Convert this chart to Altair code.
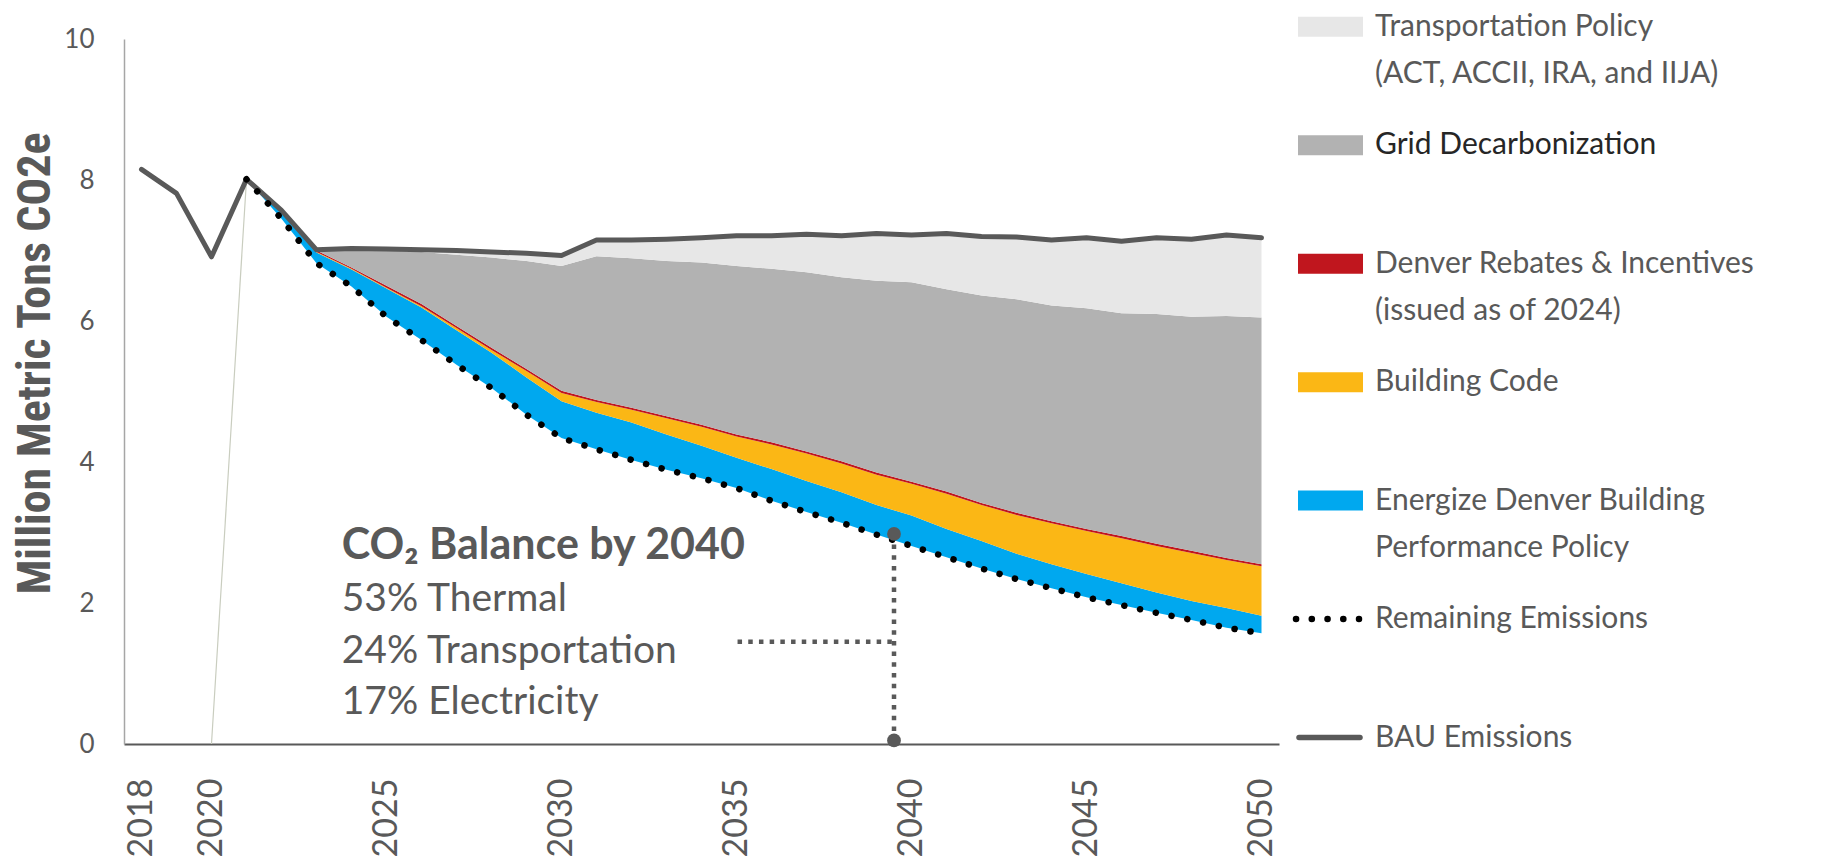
import altair as alt
import pandas as pd

# ---------------- data ----------------
all_years = list(range(2018, 2051))
years = list(range(2021, 2051))
tick_years = [2018, 2020, 2025, 2030, 2035, 2040, 2045, 2050]

bau = [8.15, 7.81, 6.91, 8.01, 7.57, 7.01, 7.03, 7.02, 7.01, 7.00, 6.98, 6.96, 6.93,
       7.15, 7.15, 7.16, 7.18, 7.21, 7.21, 7.23, 7.21, 7.24, 7.22, 7.24, 7.20, 7.19,
       7.15, 7.18, 7.13, 7.18, 7.16, 7.22, 7.18]

remaining = [8.01, 7.45, 6.82, 6.49, 6.06, 5.73, 5.38, 5.05, 4.67, 4.34, 4.18, 4.03,
             3.89, 3.77, 3.63, 3.45, 3.29, 3.14, 2.97, 2.81, 2.65, 2.49, 2.34, 2.21,
             2.08, 1.97, 1.86, 1.76, 1.65, 1.57]
energize = [0, 0.12, 0.15, 0.24, 0.40, 0.46, 0.49, 0.50, 0.53, 0.52, 0.52, 0.53, 0.50,
            0.46, 0.43, 0.45, 0.44, 0.43, 0.42, 0.43, 0.40, 0.39, 0.36, 0.34, 0.33,
            0.31, 0.29, 0.27, 0.28, 0.25]
building = [0, 0, 0.01, 0.01, 0.01, 0.02, 0.03, 0.04, 0.09, 0.12, 0.15, 0.18, 0.23,
            0.27, 0.30, 0.35, 0.39, 0.41, 0.43, 0.45, 0.50, 0.51, 0.55, 0.58, 0.61,
            0.64, 0.66, 0.68, 0.68, 0.70]
rebates = [0, 0, 0.02, 0.02] + [0.03] * 26
grid = [0, 0, 0.01, 0.26, 0.50, 0.74, 1.01, 1.28, 1.53, 1.77, 2.04, 2.12, 2.20, 2.30,
        2.39, 2.46, 2.54, 2.61, 2.72, 2.83, 2.87, 2.94, 3.03, 3.06, 3.13, 3.16, 3.26,
        3.32, 3.43, 3.50]
transport = [0, 0, 0, 0.01, 0.02, 0.03, 0.06, 0.08, 0.11, 0.15, 0.23, 0.26, 0.31, 0.35,
             0.43, 0.47, 0.54, 0.59, 0.67, 0.67, 0.79, 0.84, 0.88, 0.93, 1.00, 1.02,
             1.08, 1.10, 1.15, 1.13]

stub_years = [2020, 2021]
stub_values = [0, 8.01]

series_names = ["Remaining", "Energize", "Building", "Rebates", "Grid", "Transport"]
series_colors = ["rgba(0,0,0,0)", "#00a8ef", "#fbb715", "#c0161e", "#b2b2b2", "#e7e7e7"]

ann_lines = ["CO\u2082 Balance by 2040", "53% Thermal", "24% Transportation", "17% Electricity"]
ann_values = [2.62, 1.88, 1.15, 0.42]
ann_year = 2023.72

callout_year = 2039.5
callout_top = 2.98
callout_bottom = 0.05
callout_h_value = 1.45
callout_h_start = 2035.03

legend_line1 = ["Transportation Policy", "Grid Decarbonization", "Denver Rebates & Incentives",
                "Building Code", "Energize Denver Building", "Remaining Emissions", "BAU Emissions"]
legend_line2 = ["(ACT, ACCII, IRA, and IIJA)", "", "(issued as of 2024)", "",
                "Performance Policy", "", ""]
legend_swatch = ["#e7e7e7", "#b2b2b2", "#c0161e", "#fbb715", "#00a8ef", "black", "#595959"]
legend_text_color = ["#595959", "#262626", "#595959", "#595959", "#595959", "#595959", "#595959"]

# ---------------- frames ----------------
series_values = [remaining, energize, building, rebates, grid, transport]
rows = []
for order, (name, vals) in enumerate(zip(series_names, series_values)):
    for yr, v in zip(years, vals):
        rows.append({"year": yr, "value": v, "series": name, "order": order})
stack_df = pd.DataFrame(rows)
bau_df = pd.DataFrame({"year": all_years, "value": bau})
rem_df = pd.DataFrame({"year": years, "value": remaining})
stub_df = pd.DataFrame({"year": stub_years, "value": stub_values})
ann_df = pd.DataFrame({"year": [ann_year] * 4, "value": ann_values, "label": ann_lines})
vline_df = pd.DataFrame({"year": [callout_year], "value": [callout_top], "value2": [callout_bottom]})
hline_df = pd.DataFrame({"year": [callout_h_start], "year2": [callout_year], "value": [callout_h_value]})
marker_df = pd.DataFrame({"year": [callout_year, callout_year], "value": [callout_top, callout_bottom]})
legend_df = pd.DataFrame({"idx": list(range(7)), "line1": legend_line1, "line2": legend_line2,
                          "swatch": legend_swatch, "tcolor": legend_text_color})

# ---------------- encodings ----------------
GRAY = "#595959"
x_scale = alt.Scale(domain=[2017.5, 2050.5], nice=False, zero=False)
y_scale = alt.Scale(domain=[0, 10], nice=False)
x_axis = alt.Axis(values=tick_years, format="d", labelAngle=270, labelAlign="right",
                  labelBaseline="middle", labelPadding=34, ticks=False, grid=False,
                  domainColor=GRAY, domainWidth=2, labelFont="Lato", labelFontSize=34,
                  labelColor=GRAY, title=None, labelFlush=False, labelOverlap=False)
y_axis = alt.Axis(values=[0, 2, 4, 6, 8, 10], ticks=False, grid=False,
                  domainColor="#a6a6a6", domainWidth=1.5, labelFont="Lato",
                  labelFontSize=26, labelColor=GRAY, labelPadding=30,
                  title="Million Metric Tons CO2e",
                  titleFont="Liberation Sans Narrow, Roboto Condensed, Lato",
                  titleFontSize=46, titleFontWeight="bold", titleColor=GRAY,
                  titlePadding=4, titleY=324)
X = alt.X("year:Q", scale=x_scale, axis=x_axis)
Y = alt.Y("value:Q", scale=y_scale, axis=y_axis)

stub = alt.Chart(stub_df).mark_line(color="#c9cdbf", strokeWidth=1.2).encode(x=X, y=Y)
areas = alt.Chart(stack_df).mark_area(interpolate="linear").encode(
    x=X, y=alt.Y("value:Q", stack="zero", scale=y_scale, axis=y_axis),
    color=alt.Color("series:N", scale=alt.Scale(domain=series_names, range=series_colors),
                    legend=None),
    order=alt.Order("order:Q"))
bau_line = alt.Chart(bau_df).mark_line(color=GRAY, strokeWidth=5, strokeJoin="round",
                                       strokeCap="round").encode(x=X, y=Y)
rem_line = alt.Chart(rem_df).mark_line(color="black", strokeWidth=6.5, strokeCap="round",
                                       strokeDash=[0.1, 16]).encode(x=X, y=Y)
vline = alt.Chart(vline_df).mark_rule(color=GRAY, strokeWidth=4.5, strokeDash=[4.5, 6.2]).encode(
    x=X, y=Y, y2="value2:Q")
hline = alt.Chart(hline_df).mark_rule(color=GRAY, strokeWidth=4.5, strokeDash=[4.5, 6.2]).encode(
    x=X, x2="year2:Q", y=Y)
markers = alt.Chart(marker_df).mark_point(filled=True, color=GRAY, size=190, opacity=1).encode(
    x=X, y=Y)
ann_title = alt.Chart(ann_df.iloc[:1]).mark_text(
    align="left", baseline="alphabetic", font="Lato", fontSize=43, fontWeight="bold",
    color=GRAY).encode(x=X, y=Y, text="label:N")
ann_body = alt.Chart(ann_df.iloc[1:]).mark_text(
    align="left", baseline="alphabetic", font="Lato", fontSize=39, color=GRAY).encode(
    x=X, y=Y, text="label:N")

main = alt.layer(stub, areas, bau_line, rem_line, vline, hline, markers, ann_title,
                 ann_body).properties(width=1155, height=705)

# ---------------- legend ----------------
LY = alt.Y("idx:Q", scale=alt.Scale(domain=[0.1038, 6.0542], reverse=True, nice=False,
                                     zero=False), axis=None)
lbase = alt.Chart(legend_df)
sw = lbase.transform_filter("datum.idx < 5").mark_rule(strokeWidth=20).encode(
    x=alt.value(9), x2=alt.value(74), y=LY, color=alt.Color("swatch:N", scale=None))
dots = lbase.transform_filter("datum.idx == 5").mark_rule(
    strokeWidth=6.5, strokeDash=[0.1, 15.65], strokeCap="round", color="black").encode(
    x=alt.value(7), x2=alt.value(70), y=LY)
bline = lbase.transform_filter("datum.idx == 6").mark_rule(
    strokeWidth=5.5, strokeCap="round", color=GRAY).encode(
    x=alt.value(10), x2=alt.value(71), y=LY)
t1 = lbase.mark_text(align="left", baseline="middle", font="Lato", fontSize=30).encode(
    x=alt.value(86), y=LY, text="line1:N", color=alt.Color("tcolor:N", scale=None))
t2 = lbase.mark_text(align="left", baseline="middle", font="Lato", fontSize=30, dy=47).encode(
    x=alt.value(86), y=LY, text="line2:N", color=alt.Color("tcolor:N", scale=None))
legend = alt.layer(sw, dots, bline, t1, t2).properties(width=500, height=705)

chart = alt.hconcat(main, legend, spacing=10, bounds="flush").configure_view(
    strokeWidth=0).properties(padding={"left": 4, "top": 3, "right": 5, "bottom": 0})

chart.save("out.html", embed_options={"renderer": "svg", "actions": False})
